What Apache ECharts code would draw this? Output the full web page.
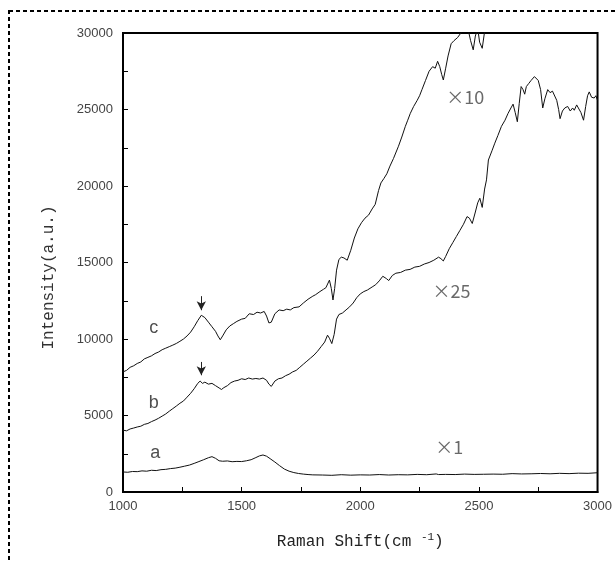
<!DOCTYPE html>
<html>
<head>
<meta charset="utf-8">
<script src="https://cdn.jsdelivr.net/npm/echarts@6/dist/echarts.min.js"></script>
<style>
html,body{margin:0;padding:0;background:#fff;}
#chart{width:615px;height:562px;}
</style>
</head>
<body>
<div id="chart"></div>
<script>
// Raman shift (cm^-1), intensity (a.u.)
const seriesA = [[1000,1310],[1020,1290],[1040,1340],[1060,1330],[1080,1380],[1100,1360],[1120,1420],[1140,1400],[1160,1460],[1180,1480],[1200,1530],[1220,1560],[1240,1620],[1260,1690],[1280,1760],[1300,1870],[1320,1990],[1340,2110],[1360,2240],[1375,2310],[1390,2200],[1405,2040],[1420,2010],[1440,2030],[1460,1980],[1480,2000],[1500,1990],[1520,2040],[1540,2110],[1560,2250],[1575,2360],[1590,2420],[1605,2340],[1620,2180],[1640,1960],[1660,1720],[1680,1500],[1700,1360],[1720,1270],[1740,1210],[1760,1170],[1780,1140],[1800,1120],[1840,1110],[1880,1090],[1920,1130],[1960,1100],[2000,1120],[2040,1110],[2080,1140],[2120,1110],[2160,1130],[2200,1120],[2240,1150],[2280,1130],[2320,1180],[2330,1140],[2360,1150],[2400,1140],[2440,1170],[2480,1150],[2520,1160],[2560,1170],[2600,1160],[2640,1200],[2680,1180],[2720,1190],[2760,1210],[2800,1190],[2840,1220],[2880,1200],[2920,1230],[2960,1220],[3000,1260]];

const seriesB = [[1000,4040],[1015,4000],[1030,4120],[1045,4180],[1060,4250],[1075,4300],[1090,4420],[1105,4480],[1120,4600],[1135,4700],[1150,4820],[1165,4960],[1180,5100],[1195,5280],[1210,5450],[1225,5620],[1240,5800],[1255,5950],[1270,6200],[1285,6450],[1300,6750],[1315,7100],[1325,7250],[1335,7100],[1345,7180],[1360,7050],[1375,7100],[1390,6950],[1405,6800],[1415,6700],[1425,6820],[1440,6950],[1455,7150],[1470,7250],[1485,7300],[1500,7400],[1515,7350],[1530,7450],[1545,7380],[1560,7420],[1575,7380],[1590,7450],[1605,7300],[1615,7050],[1625,6900],[1640,7250],[1655,7400],[1670,7450],[1685,7600],[1700,7700],[1715,7850],[1730,7950],[1745,8150],[1760,8350],[1775,8550],[1790,8750],[1805,8950],[1820,9200],[1835,9500],[1850,9800],[1862,10250],[1870,10050],[1880,9700],[1890,10300],[1900,11300],[1910,11600],[1925,11700],[1940,11900],[1955,12100],[1970,12350],[1985,12700],[2000,12950],[2015,13100],[2030,13200],[2050,13400],[2065,13550],[2080,13800],[2095,14100],[2110,13950],[2120,13820],[2135,14150],[2150,14300],[2170,14350],[2190,14500],[2210,14550],[2230,14700],[2250,14750],[2270,14900],[2290,15000],[2310,15150],[2330,15350],[2340,15250],[2350,15100],[2360,15400],[2375,15900],[2390,16300],[2405,16700],[2420,17100],[2435,17500],[2450,18000],[2460,17900],[2472,17550],[2485,18300],[2495,18900],[2504,19200],[2514,18600],[2524,19800],[2532,20400],[2540,21700],[2555,22300],[2567,22800],[2580,23300],[2595,23900],[2610,24300],[2623,24750],[2635,25100],[2644,25350],[2653,24800],[2662,24200],[2670,25400],[2678,26500],[2686,26300],[2693,26000],[2700,26500],[2710,26700],[2720,26900],[2728,26800],[2734,27150],[2742,27200],[2750,26900],[2760,26300],[2769,25100],[2778,25700],[2790,26300],[2800,26100],[2810,26200],[2818,26100],[2828,25600],[2836,25000],[2842,24400],[2852,24900],[2862,25100],[2874,25200],[2885,24900],[2895,25100],[2902,24950],[2912,25300],[2919,25300],[2930,24800],[2941,24300],[2950,25200],[2958,25900],[2965,26150],[2975,25800],[2986,25750],[2993,25900],[3000,25600]];

const seriesC = [[1000,7850],[1015,7950],[1030,8150],[1045,8250],[1060,8400],[1075,8500],[1090,8700],[1105,8800],[1120,8900],[1135,9050],[1150,9150],[1165,9300],[1180,9400],[1195,9500],[1210,9600],[1225,9710],[1240,9850],[1255,10000],[1270,10200],[1285,10450],[1300,10800],[1315,11200],[1330,11550],[1345,11400],[1360,11100],[1375,10800],[1390,10500],[1400,10200],[1410,9950],[1420,10200],[1435,10600],[1450,10850],[1465,11000],[1480,11150],[1500,11300],[1515,11350],[1532,11650],[1550,11600],[1565,11750],[1580,11700],[1595,11800],[1605,11500],[1615,11050],[1625,11100],[1640,11650],[1658,11900],[1675,11850],[1690,11950],[1705,11900],[1720,12050],[1742,12100],[1760,12350],[1780,12600],[1800,12800],[1812,12900],[1830,13100],[1845,13250],[1855,13350],[1870,13850],[1878,13300],[1885,12550],[1892,13300],[1900,14500],[1910,15200],[1920,15350],[1931,15300],[1945,15150],[1960,15800],[1975,16600],[1990,17200],[2005,17600],[2020,17900],[2035,18100],[2050,18500],[2063,18800],[2077,19700],[2087,20200],[2100,20500],[2112,20800],[2125,21300],[2140,21800],[2161,22600],[2175,23200],[2190,23900],[2200,24300],[2211,24750],[2225,25200],[2240,25600],[2250,25900],[2260,26300],[2275,26900],[2290,27500],[2305,27800],[2316,27700],[2326,28150],[2335,27800],[2343,27300],[2350,26930],[2360,27700],[2370,28500],[2383,29300],[2395,29500],[2410,29700],[2424,30000],[2440,30400],[2455,30200],[2465,29500],[2476,28900],[2485,29800],[2495,30300],[2503,29400],[2514,29000],[2525,30200],[2540,31000],[2560,32000]];

// curve labels and magnification labels (data coordinates)
const letterLabels = [{name:'c', value:[1130,10710]},{name:'b', value:[1130,5800]},{name:'a', value:[1136,2530]}];
const factorLabels = [{name:'×10', value:[2442,25820]},{name:'×25', value:[2384,13130]},{name:'×1', value:[2375,2920]}];
// arrows marking the D band (start, tip)
const arrowC = [[1330,12800],[1330,11880]];
const arrowB = [[1330,8500],[1330,7630]];

const xTicks = {min:1000, max:3000, interval:500};
const yTicks = {min:0, max:30000, interval:5000};

const chart = echarts.init(document.getElementById('chart'), null, {renderer:'canvas'});
const axisCommon = {
  axisLine:{show:true, onZero:false, lineStyle:{color:'#000', width:2}},
  axisTick:{show:true, inside:true, length:5, lineStyle:{color:'#000', width:1}},
  minorTick:{show:true, splitNumber:2, length:5, lineStyle:{color:'#000', width:1}},
  splitLine:{show:false},
  axisLabel:{color:'#444', fontSize:13, fontFamily:'Liberation Sans', formatter:function(v){return String(v);}}
};
const lineStyle = {color:'#111', width:1};
function arrowLine(a){
  return {silent:true, symbol:['none','arrow'], symbolSize:[7,9], label:{show:false},
    lineStyle:{color:'#222', width:1, type:'solid'},
    data:[[{coord:a[0]},{coord:a[1]}]]};
}
chart.setOption({
  animation:false,
  backgroundColor:'#fff',
  grid:{left:123, right:15, top:33, bottom:70, show:true, borderColor:'#000', borderWidth:2, backgroundColor:'transparent'},
  graphic:[{type:'rect', silent:true, shape:{x:9, y:11, width:1000, height:1000},
    style:{fill:'none', stroke:'#000', lineWidth:2, lineDash:[4,3]}}],
  xAxis:Object.assign({type:'value', min:xTicks.min, max:xTicks.max, interval:xTicks.interval,
    name:'Raman Shift(cm {sup|-1})', nameLocation:'middle', nameGap:40,
    nameTextStyle:{fontFamily:'Liberation Mono', fontSize:16, color:'#222',
      rich:{sup:{fontFamily:'Liberation Mono', fontSize:11, color:'#222', verticalAlign:'top', padding:[0,0,8,0]}}}
  }, axisCommon, {axisLabel:Object.assign({}, axisCommon.axisLabel, {margin:8})}),
  yAxis:Object.assign({type:'value', min:yTicks.min, max:yTicks.max, interval:yTicks.interval,
    name:'Intensity(a.u.)', nameLocation:'middle', nameGap:66, nameRotate:90,
    nameTextStyle:{fontFamily:'Liberation Mono', fontSize:16, color:'#333', padding:[0,30,0,0]}
  }, axisCommon, {axisLabel:Object.assign({}, axisCommon.axisLabel, {margin:10})}),
  series:[
    {type:'line', data:seriesA, showSymbol:false, symbol:'none', lineStyle, clip:true},
    {type:'line', data:seriesB, showSymbol:false, symbol:'none', lineStyle, clip:true, markLine:arrowLine(arrowB)},
    {type:'line', data:seriesC, showSymbol:false, symbol:'none', lineStyle, clip:true, markLine:arrowLine(arrowC)},
    {type:'scatter', data:letterLabels, symbolSize:1, itemStyle:{color:'rgba(0,0,0,0)'}, silent:true,
      label:{show:true, position:'inside', formatter:'{b}', fontFamily:'Liberation Sans', fontSize:18, color:'#222'}},
    {type:'scatter', data:factorLabels, symbolSize:1, itemStyle:{color:'rgba(0,0,0,0)'}, silent:true,
      label:{show:true, position:'inside', formatter:'{b}', fontFamily:'Noto Sans CJK JP', fontSize:18, color:'#444'}}
  ]
});
</script>
</body>
</html>
